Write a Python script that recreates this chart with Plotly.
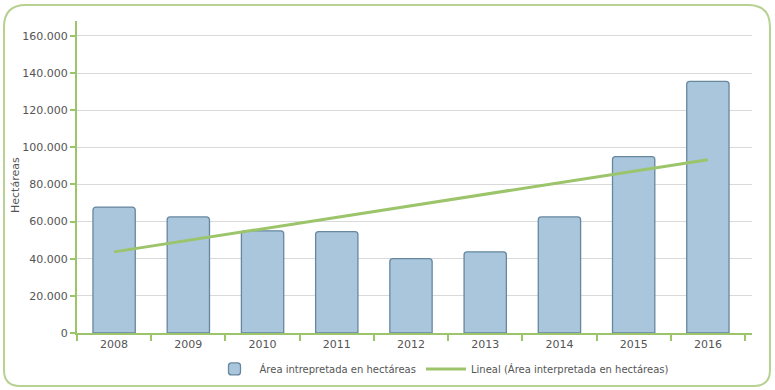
import numpy as np
import plotly.graph_objects as go

years = ["2008", "2009", "2010", "2011", "2012", "2013", "2014", "2015", "2016"]
area_ha = [67800, 62500, 55000, 54600, 40000, 43700, 62500, 95000, 135500]
y_ticks = [0, 20000, 40000, 60000, 80000, 100000, 120000, 140000, 160000]

# Linear trendline (Excel "Lineal") fitted to the bar values
xi = np.arange(len(years))
slope, intercept = np.polyfit(xi, area_ha, 1)
trend = list(intercept + slope * xi)

W, H = 775, 390
ml, mr, mt, mb = 77, 23, 21, 57
pw, ph = W - ml - mr, H - mt - mb

GREEN = "#9cc46a"
TXT = "#555555"

fig = go.Figure()
fig.add_trace(go.Bar(
    x=years, y=area_ha, name="Área intrepretada en hectáreas",
    marker=dict(color="#a9c6dd", line=dict(color="#67879f", width=1.3), cornerradius=3),
    width=0.57,
))
fig.add_trace(go.Scatter(
    x=years, y=trend, mode="lines", name="Lineal (Área interpretada en hectáreas)",
    line=dict(color=GREEN, width=3),
))

def P(px, py):
    a = (px - ml) / pw
    b = (H - mb - py) / ph
    return f"{a:.5f},{b:.5f}"

# rounded border
x0, y0, x1, y1 = 4, 5, 770, 386
r1, r2 = 22, 16
path = (f"M {P(x0+r1, y0)} L {P(x1-r1, y0)} Q {P(x1, y0)} {P(x1, y0+r1)} "
        f"L {P(x1, y1-r2)} Q {P(x1, y1)} {P(x1-r2, y1)} "
        f"L {P(x0+r2, y1)} Q {P(x0, y1)} {P(x0, y1-r2)} "
        f"L {P(x0, y0+r1)} Q {P(x0, y0)} {P(x0+r1, y0)} Z")

fig.update_layout(
    width=W, height=H,
    margin=dict(l=ml, r=mr, t=mt, b=mb, autoexpand=False),
    paper_bgcolor="white", plot_bgcolor="white",
    separators=",.",
    font=dict(family="DejaVu Sans", size=11, color=TXT),
    showlegend=True,
    legend=dict(orientation="h", x=0.54, xanchor="center", y=-0.115, yanchor="middle",
                font=dict(size=10, color=TXT), itemwidth=40, tracegroupgap=0),
    shapes=[dict(type="path", xref="paper", yref="paper", path=path,
                 line=dict(color="#b7d191", width=2), layer="above")],
    annotations=[dict(text="Hectáreas", textangle=-90, xref="paper", yref="paper",
                      x=(15 - ml) / pw, y=(H - mb - 185) / ph, showarrow=False,
                      xanchor="center", yanchor="middle",
                      font=dict(size=11, color=TXT))],
)
fig.update_xaxes(
    type="category", range=[-0.5, 8.5 + 7 / 74.2], automargin=False,
    showline=True, linecolor=GREEN, linewidth=2,
    ticks="outside", tickson="boundaries", ticklen=6, tickcolor=GREEN, tickwidth=1.5,
    showgrid=False, tickfont=dict(size=11, color=TXT),
)
fig.update_yaxes(
    range=[0, 168000], tickvals=y_ticks, tickformat=",d", automargin=False,
    showline=True, linecolor=GREEN, linewidth=2,
    ticks="outside", ticklen=5, tickcolor=GREEN, tickwidth=1.5,
    showgrid=True, gridcolor="#d9d9d9", gridwidth=1, zeroline=False,
    tickfont=dict(size=11, color=TXT),
)

fig.write_html("out.html", config={"displayModeBar": False},
               post_script="document.body.style.margin='0';")
